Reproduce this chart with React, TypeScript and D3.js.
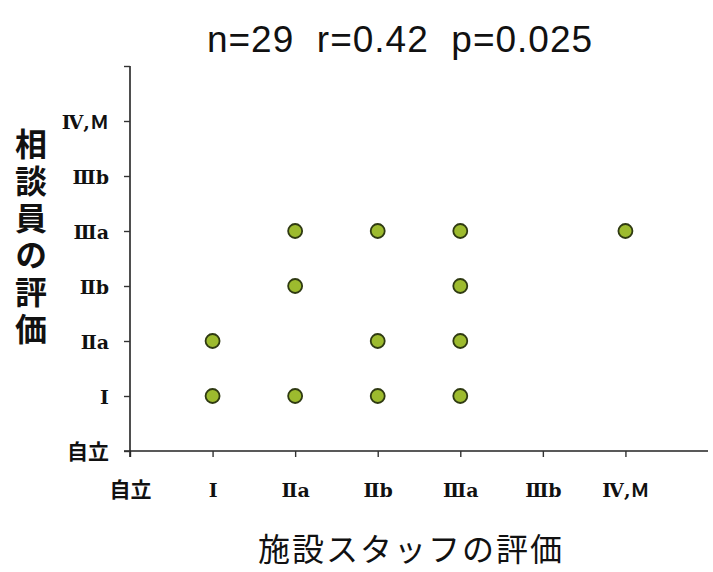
import { useEffect, useRef } from 'react';
import * as d3 from 'd3';

// category labels on both axes (index 0 = 自立)
const levels = ['自立', 'Ⅰ', 'Ⅱa', 'Ⅱb', 'Ⅲa', 'Ⅲb', 'Ⅳ,Ｍ'];

// staff rating (x index) and counsellor rating (y index) of each visible point
const staffRating = [2, 3, 4, 6, 2, 4, 1, 3, 4, 1, 2, 3, 4];
const counselRating = [4, 4, 4, 4, 3, 3, 2, 2, 2, 1, 1, 1, 1];

const title = 'n=29  r=0.42  p=0.025';
const xTitle = '施設スタッフの評価';
const yTitle = '相談員の評価';

const jpFont = '"Noto Sans CJK JP", sans-serif';
const tickFont = '"DejaVu Serif", "Noto Sans CJK JP", serif';

function App() {
  const svgRef = useRef<SVGSVGElement>(null);

  useEffect(() => {
    document.body.style.margin = '0';
    const svg = d3.select(svgRef.current);
    svg.selectAll('*').remove();

    const x = d3.scaleLinear().domain([0, 7]).range([130, 708]);
    const y = d3.scaleLinear().domain([0, 7]).range([451, 66]);

    const styleTicks = (sel: any) =>
      sel
        .attr('font-family', (d: number) => (d === 0 ? jpFont : tickFont))
        .attr('font-weight', 'bold')
        .attr('font-size', (d: number) => (d === 0 ? 21 : 19))
        .attr('fill', '#111');

    // x axis
    const xAxis = svg
      .append('g')
      .attr('transform', `translate(0, ${y(0)})`)
      .call(
        d3
          .axisBottom(x)
          .tickValues(d3.range(0, 7))
          .tickSize(6)
          .tickSizeOuter(0)
          .tickFormat((d) => levels[d as number])
      );
    xAxis.select('.domain').attr('d', `M${x(0) - 6},0H${x(7)}`).attr('stroke', '#222').attr('stroke-width', 1.6);
    xAxis.selectAll('.tick line').attr('stroke', '#333').attr('stroke-width', 1.4);
    styleTicks(xAxis.selectAll('.tick text').attr('dy', 0).attr('y', 46));

    // y axis
    const yAxis = svg
      .append('g')
      .attr('transform', `translate(${x(0)}, 0)`)
      .call(
        d3
          .axisLeft(y)
          .tickValues(d3.range(0, 8))
          .tickSize(6)
          .tickSizeOuter(0)
          .tickFormat((d) => ((d as number) < 7 ? levels[d as number] : ''))
      );
    yAxis.select('.domain').attr('d', `M0,${y(7)}V${y(0) + 6}`).attr('stroke', '#222').attr('stroke-width', 1.6);
    yAxis.selectAll('.tick line').attr('stroke', '#333').attr('stroke-width', 1.4);
    styleTicks(yAxis.selectAll('.tick text').attr('x', -21).attr('dy', '0.38em'));

    // points
    svg
      .append('g')
      .selectAll('circle')
      .data(staffRating)
      .enter()
      .append('circle')
      .attr('cx', (d) => x(d))
      .attr('cy', (d, i) => y(counselRating[i]))
      .attr('r', 7)
      .attr('fill', '#9dbb2e')
      .attr('stroke', '#2f3a12')
      .attr('stroke-width', 1.8);

    // title
    svg
      .append('text')
      .attr('x', 400)
      .attr('y', 52)
      .attr('text-anchor', 'middle')
      .attr('font-family', '"Liberation Sans", Arial, sans-serif')
      .attr('font-size', 37)
      .attr('letter-spacing', 1)
      .attr('fill', '#111')
      .style('white-space', 'pre')
      .text(title);

    // x title
    svg
      .append('text')
      .attr('x', 411)
      .attr('y', 561)
      .attr('text-anchor', 'middle')
      .attr('font-family', jpFont)
      .attr('font-size', 32)
      .attr('letter-spacing', 2)
      .attr('fill', '#111')
      .text(xTitle);

    // y title, written vertically
    svg
      .append('text')
      .attr('x', 31)
      .attr('y', 128)
      .style('writing-mode', 'vertical-rl')
      .style('text-orientation', 'upright')
      .attr('font-family', jpFont)
      .attr('font-weight', 'bold')
      .attr('font-size', 32)
      .attr('letter-spacing', 5)
      .attr('fill', '#111')
      .text(yTitle);
  }, []);

  return <svg ref={svgRef} width={713} height={572} style={{ display: 'block', background: '#fff' }} />;
}

export default App;
